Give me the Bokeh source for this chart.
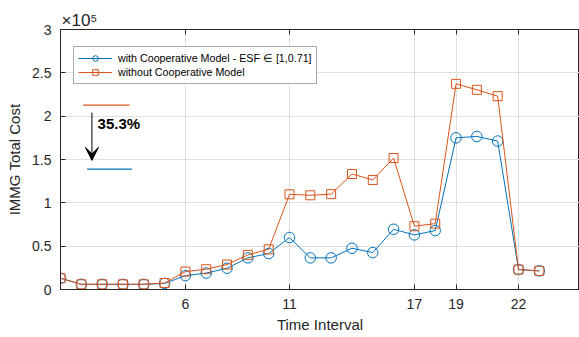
from bokeh.plotting import figure
from bokeh.models import (LinearAxis, FixedTicker, Legend, LegendItem, Label,
                          Arrow, VeeHead, Range1d, ColumnDataSource)
from bokeh.embed import file_html
from bokeh.resources import INLINE

# ---------------- data ----------------
time_interval = list(range(0, 24))
with_coop = [0.13, 0.06, 0.06, 0.06, 0.06, 0.07, 0.16, 0.19, 0.245, 0.365,
             0.415, 0.60, 0.365, 0.365, 0.476, 0.426, 0.695, 0.63, 0.68,
             1.75, 1.766, 1.713, 0.23, 0.215]
without_coop = [0.13, 0.06, 0.06, 0.06, 0.06, 0.075, 0.207, 0.234, 0.288, 0.40,
                0.464, 1.098, 1.087, 1.10, 1.333, 1.264, 1.517, 0.73, 0.76,
                2.373, 2.304, 2.231, 0.23, 0.215]
x_ticks = [6, 11, 17, 19, 22]
y_ticks = [0, 0.5, 1, 1.5, 2, 2.5, 3]
legend_labels = ["with Cooperative Model - ESF \u2208 [1,0.71]",
                 "without Cooperative Model"]
reduction_label = "35.3%"
multiplier_label = "\u00d710\u2075"

BLUE = "#0072BD"
ORANGE = "#D95319"
AX = "#262626"
FONT = "Liberation Sans"

p = figure(width=579, height=337, output_backend="svg", toolbar_location=None,
           x_range=Range1d(0, 24.93), y_range=Range1d(0, 3),
           min_border_left=60, min_border_right=0, min_border_top=29,
           min_border_bottom=48, x_axis_location="below")
p.outline_line_color = AX
p.outline_line_width = 1
p.background_fill_color = "white"
p.border_fill_color = "white"

p.title.text = multiplier_label
p.title.text_font = FONT
p.title.text_font_size = "17px"
p.title.text_font_style = "normal"
p.title.text_color = AX
p.title.align = "left"
p.title.offset = 1
p.title.standoff = 0

def style_axis(ax, show_labels=True):
    ax.axis_line_color = AX
    ax.major_tick_line_color = AX
    ax.major_tick_in = 5
    ax.major_tick_out = 0
    ax.minor_tick_line_color = None
    ax.major_label_text_color = AX
    ax.major_label_text_font = FONT
    ax.major_label_text_font_size = "14px"
    ax.axis_label_text_font = FONT
    ax.axis_label_text_font_style = "normal"
    ax.axis_label_text_color = AX
    ax.axis_label_text_font_size = "15px"
    if not show_labels:
        ax.major_label_overrides = {t: "" for t in ax.ticker.ticks}
        ax.major_label_standoff = 2

xax = p.xaxis[0]
xax.ticker = FixedTicker(ticks=x_ticks)
style_axis(xax)
xax.major_label_standoff = 9
xax.axis_label = "Time Interval"
xax.axis_label_standoff = 4

yax = p.yaxis[0]
yax.ticker = FixedTicker(ticks=y_ticks)
style_axis(yax)
yax.major_label_standoff = 9
yax.major_label_overrides = {0: "0", 1: "1", 2: "2", 3: "3"}
yax.axis_label = "IMMG Total Cost"
yax.axis_label_standoff = 6

top = LinearAxis(ticker=FixedTicker(ticks=x_ticks))
style_axis(top, show_labels=False)
p.add_layout(top, "above")

p.xgrid.ticker = FixedTicker(ticks=x_ticks)
p.ygrid.ticker = FixedTicker(ticks=y_ticks)
for g in (p.xgrid[0], p.ygrid[0]):
    g.grid_line_color = "#dfdfdf"
    g.grid_line_width = 1

src = ColumnDataSource(dict(x=time_interval, a=with_coop, b=without_coop))

l1 = p.line("x", "a", source=src, line_color=BLUE, line_width=1)
m1 = p.scatter("x", "a", source=src, marker="circle", size=10.5,
               line_color=BLUE, fill_color=None, line_width=1)
l2 = p.line("x", "b", source=src, line_color=ORANGE, line_width=1)
m2 = p.scatter("x", "b", source=src, marker="square", size=9,
               line_color=ORANGE, fill_color=None, line_width=1)

legend = Legend(items=[LegendItem(label=legend_labels[0], renderers=[l1, m1]),
                       LegendItem(label=legend_labels[1], renderers=[l2, m2])],
                location=(13, 205))
legend.label_text_font = FONT
legend.label_text_font_size = "10.7px"
legend.label_text_color = "black"
legend.border_line_color = "#555555"
legend.border_line_width = 1
legend.background_fill_color = "white"
legend.background_fill_alpha = 1
legend.glyph_width = 34
legend.glyph_height = 14
legend.label_height = 14
legend.label_standoff = 6
legend.spacing = 0
legend.padding = 4
legend.margin = 0
p.add_layout(legend, "center")

# annotation: reduction arrow
p.segment(x0=[1.09], y0=[2.128], x1=[3.32], y1=[2.128], line_color=ORANGE, line_width=1.2)
p.segment(x0=[1.28], y0=[1.39], x1=[3.43], y1=[1.39], line_color=BLUE, line_width=1.2)
p.add_layout(Arrow(x_start=1.51, y_start=2.04, x_end=1.51, y_end=1.49,
                   line_color="black", line_width=1,
                   end=VeeHead(size=13, fill_color="black", line_color="black")))
p.add_layout(Label(x=1.78, y=1.92, text=reduction_label, text_font=FONT,
                   text_font_style="bold", text_font_size="15px",
                   text_color="black", text_baseline="middle"))

open("out.html", "w").write(file_html(p, INLINE))
